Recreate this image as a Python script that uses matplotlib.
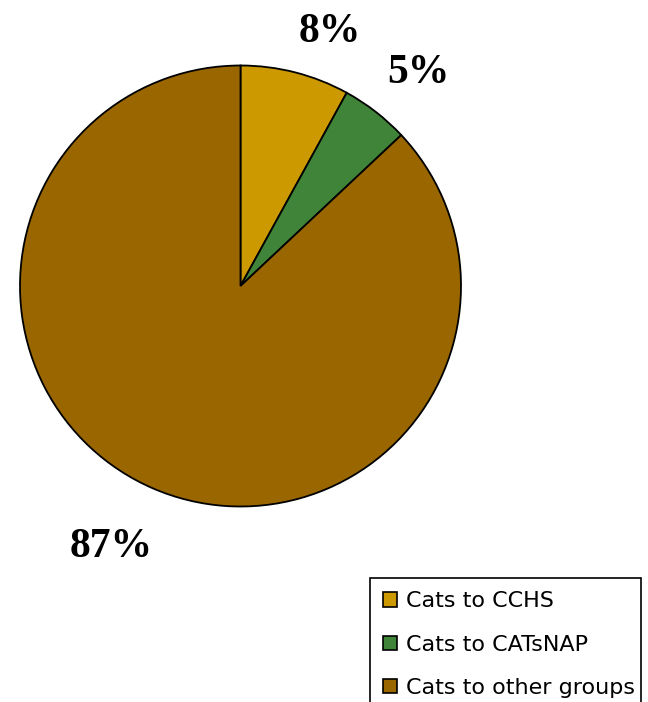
import matplotlib
matplotlib.use("Agg")
import matplotlib.pyplot as plt
from matplotlib.patches import Patch, Rectangle
import numpy as np

categories = ["Cats to CCHS", "Cats to CATsNAP", "Cats to other groups"]
values = [8, 5, 87]
pct_labels = ["8%", "5%", "87%"]
colors = ["#CC9900", "#3F8438", "#996600"]
label_dist = [1.22, 1.26, 1.32]
label_angle_shift = [-5, -2, -3]

W, H = 648, 702
fig = plt.figure(figsize=(W / 100, H / 100), dpi=100)
fig.patch.set_facecolor("white")

cx, cy, r = 240.5, 286, 220.5
ax = fig.add_axes([(cx - r) / W, 1 - (cy + r) / H, 2 * r / W, 2 * r / H])
wedges, _ = ax.pie(values, colors=colors, startangle=90, counterclock=False,
                   radius=1, wedgeprops=dict(edgecolor="black", linewidth=1.3))
ax.set_xlim(-1, 1)
ax.set_ylim(-1, 1)
ax.set_aspect("equal")
ax.axis("off")

for w, lab, d, s in zip(wedges, pct_labels, label_dist, label_angle_shift):
    ang = np.deg2rad((w.theta1 + w.theta2) / 2 + s)
    ax.text(d * np.cos(ang), d * np.sin(ang), lab, ha="center", va="center",
            fontsize=30, fontweight="bold", family="Liberation Serif",
            clip_on=False)

# legend frame (extends below the figure edge, as in the reference)
fig.add_artist(Rectangle((370 / W, -20 / H), (641 - 370) / W, (702 - 578 + 20) / H,
                         transform=fig.transFigure, facecolor="white",
                         edgecolor="black", linewidth=1.2, zorder=4))

handles = [Patch(facecolor=c, edgecolor="black", linewidth=1.2) for c in colors]
leg = fig.legend(handles, categories, loc="upper left",
                 bbox_to_anchor=(370 / W, 1 - 578 / H), bbox_transform=fig.transFigure,
                 frameon=False, borderaxespad=0,
                 handlelength=0.62, handleheight=0.62, handletextpad=0.38,
                 labelspacing=1.05, borderpad=0.6, prop={"family": "DejaVu Sans", "size": 16})
leg.set_zorder(5)

fig.savefig("out.png", dpi=100)
